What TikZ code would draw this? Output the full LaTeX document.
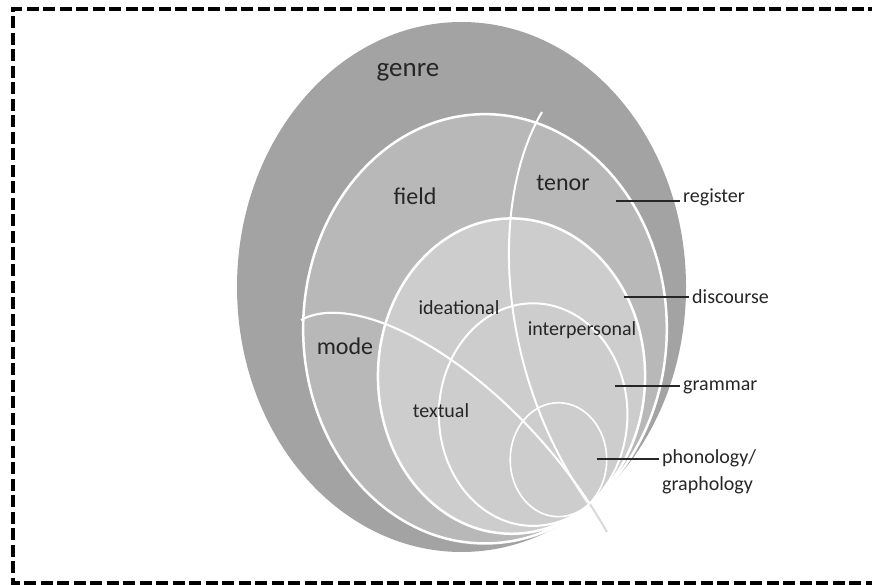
\documentclass[tikz,border=0pt]{standalone}
\usepackage{fontspec}
\setmainfont{Carlito}
\usepackage{xcolor}
\usepackage{tikz}
\usetikzlibrary{positioning}

\definecolor{genregray}{RGB}{163,163,163}
\definecolor{fieldgray}{RGB}{184,184,184}
\definecolor{innergray}{RGB}{205,205,205}

\tikzset{
  layer/.style={font=\fontsize{24}{28}\selectfont, text=black!85},
  meta/.style={font=\fontsize{20}{24}\selectfont, text=black!85},
  side/.style={font=\fontsize{20}{24}\selectfont, text=black!85, anchor=west, inner sep=3pt},
  leader/.style={draw=black!85, line width=1.3pt},
  arcline/.style={draw=white, line width=2pt}
}

\begin{document}
\begin{tikzpicture}[x=1pt, y=-1pt]
\useasboundingbox (0,0) rectangle (872,585);

% frame
\draw[line width=3.2pt, dash pattern=on 12pt off 4.5pt] (880,9) -- (13,9) -- (13,583) -- (880,583);

% genre
\fill[genregray] (461.5,287) ellipse [x radius=224.5, y radius=265];
% register, discourse, grammar, phonology (all touch genre at the lower right)
\foreach \s/\c/\w in {0.81/fieldgray/2.5pt, 0.595/innergray/2.5pt, 0.42/innergray/2pt, 0.215/innergray/1.6pt} {
    \filldraw[fill=\c, draw=white, line width=\w] ({585-123.5*\s},{507-220*\s}) ellipse [x radius={224.5*\s}, y radius={265*\s}];
}

% tenor and mode
\draw[arcline] (542,112) .. controls (490,200) and (495,370) .. (588,503);
\draw[gray!30, line width=2pt] (301,320) .. controls (365,285) and (520,380) .. (607,532);
\begin{scope}
\clip (461.5,287) ellipse [x radius=224.5, y radius=265];
\draw[arcline] (301,320) .. controls (365,285) and (520,380) .. (607,532);
\end{scope}

% labels
\node[layer, font=\fontsize{27}{30}\selectfont] (genre) at (408,72) {genre};
\node[layer] (field) at (415,196) {field};
\node[layer] (tenor) at (563,183) {tenor};
\node[layer] (mode) at (345,346) {mode};
\node[meta] (ideational) at (459,308) {ideational};
\node[meta] (interpersonal) at (582,330) {interpersonal};
\node[meta] (textual) at (441,411) {textual};

% strata on the right
\node[side] (register) at (680,197) {register};
\node[side] (discourse) at (689,297) {discourse};
\node[side] (grammar) at (680,387) {grammar};
\node[side] (phono) at (659,458) {phonology/};
\node[side] (grapho) at (659,485) {graphology};

\coordinate (reg-in) at (616,201);
\coordinate (dis-in) at (624,297);
\coordinate (gra-in) at (615,386);
\coordinate (pho-in) at (597,459);
\draw[leader] (reg-in) -- (reg-in -| register.west);
\draw[leader] (dis-in) -- (dis-in -| discourse.west);
\draw[leader] (gra-in) -- (gra-in -| grammar.west);
\draw[leader] (pho-in) -- (pho-in -| phono.west);
\end{tikzpicture}
\end{document}
